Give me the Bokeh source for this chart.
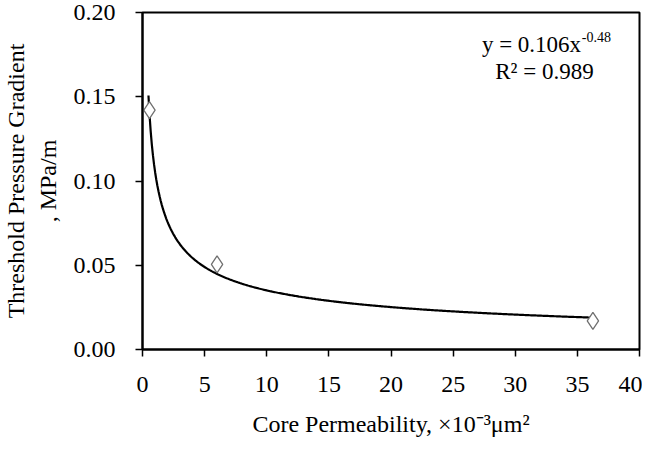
import numpy as np
from bokeh.plotting import figure
from bokeh.models import FixedTicker, NumeralTickFormatter, Label, Range1d
from bokeh.embed import file_html
from bokeh.resources import INLINE

# Data
permeability = [0.56, 6.0, 36.25]          # ×10^-3 μm²
gradient = [0.142, 0.0505, 0.0170]         # MPa/m
fit_a = 0.106
fit_b = -0.48
fit_x_start = 0.48
fit_x_end = 36.3
x_ticks = [0, 5, 10, 15, 20, 25, 30, 35, 40]
y_ticks = [0.0, 0.05, 0.10, 0.15, 0.20]

FONT = "Liberation Serif"

p = figure(width=642, height=439, output_backend="svg", toolbar_location=None,
           x_range=Range1d(0, 40), y_range=Range1d(0, 0.2),
           min_border_left=136, min_border_right=3, min_border_top=12, min_border_bottom=80)
p.grid.visible = False
p.outline_line_color = "black"
p.outline_line_width = 2
p.background_fill_color = "white"
p.border_fill_color = "white"

# trend line from the fitted power law
xs = np.linspace(fit_x_start, fit_x_end, 400)
ys = fit_a * xs ** fit_b
p.line(xs, ys, line_color="black", line_width=2.2)

p.scatter(permeability, gradient, marker="diamond", size=17, fill_color="white",
          line_color="#707070", line_width=1.3)

for ax in (p.xaxis[0], p.yaxis[0]):
    ax.axis_line_width = 2
    ax.axis_line_color = "black"
    ax.major_tick_line_width = 1.5
    ax.major_tick_in = 0
    ax.major_tick_out = 7
    ax.minor_tick_in = 0
    ax.minor_tick_out = 0
    ax.major_label_text_font = FONT
    ax.major_label_text_font_size = "24px"
    ax.major_label_text_color = "black"
    ax.axis_label_text_font = FONT
    ax.axis_label_text_font_size = "24px"
    ax.axis_label_text_font_style = "normal"
    ax.axis_label_text_color = "black"

p.xaxis.ticker = FixedTicker(ticks=x_ticks)
p.yaxis.ticker = FixedTicker(ticks=y_ticks)
p.yaxis.formatter = NumeralTickFormatter(format="0.00")
p.xaxis.major_label_standoff = 20
p.yaxis.major_label_standoff = 20
p.xaxis.axis_label = "Core Permeability, \u00d710\u207b\u00b3\u03bcm\u00b2"
p.yaxis.axis_label = "Threshold Pressure Gradient\n, MPa/m"
p.xaxis.axis_label_standoff = 16
p.yaxis.axis_label_standoff = 10

# equation annotation
p.add_layout(Label(x=35.30, y=0.1809, text="y = 0.106x", text_align="right",
                   text_baseline="middle", text_font=FONT, text_font_size="23px",
                   text_color="black"))
p.add_layout(Label(x=35.35, y=0.1855, text="-0.48", text_align="left",
                   text_baseline="middle", text_font=FONT, text_font_size="14px",
                   text_color="black"))
p.add_layout(Label(x=32.35, y=0.1652, text="R\u00b2 = 0.989", text_align="center",
                   text_baseline="middle", text_font=FONT, text_font_size="23px",
                   text_color="black"))

open("out.html", "w").write(file_html(p, INLINE))
